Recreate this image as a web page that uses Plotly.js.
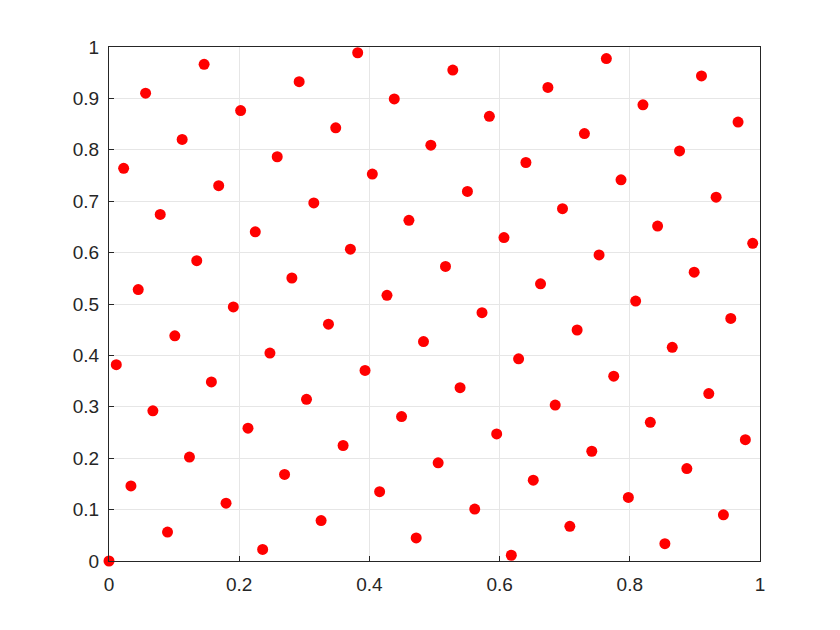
<!DOCTYPE html>
<html>
<head>
<meta charset="utf-8">
<script src="https://cdn.plot.ly/plotly-3.0.1.min.js"></script>
<style>
  html, body { margin: 0; padding: 0; background: #fff; }
  #plot { width: 840px; height: 630px; }
</style>
</head>
<body>
<div id="plot"></div>
<script>
// point coordinates
const xs = [
  0, 0.0112, 0.0225, 0.0337, 0.0449, 0.0562, 0.0674, 0.0787, 0.0899, 0.1011,
  0.1124, 0.1236, 0.1348, 0.1461, 0.1573, 0.1685, 0.1798, 0.1910, 0.2022, 0.2135,
  0.2247, 0.2360, 0.2472, 0.2584, 0.2697, 0.2809, 0.2921, 0.3034, 0.3146, 0.3258,
  0.3371, 0.3483, 0.3596, 0.3708, 0.3820, 0.3933, 0.4045, 0.4157, 0.4270, 0.4382,
  0.4494, 0.4607, 0.4719, 0.4831, 0.4944, 0.5056, 0.5169, 0.5281, 0.5393, 0.5506,
  0.5618, 0.5730, 0.5843, 0.5955, 0.6067, 0.6180, 0.6292, 0.6404, 0.6517, 0.6629,
  0.6742, 0.6854, 0.6966, 0.7079, 0.7191, 0.7303, 0.7416, 0.7528, 0.7640, 0.7753,
  0.7865, 0.7978, 0.8090, 0.8202, 0.8315, 0.8427, 0.8539, 0.8652, 0.8764, 0.8876,
  0.8989, 0.9101, 0.9213, 0.9326, 0.9438, 0.9551, 0.9663, 0.9775, 0.9888
];
const ys = [
  0, 0.3820, 0.7640, 0.1461, 0.5281, 0.9101, 0.2921, 0.6742, 0.0562, 0.4382,
  0.8202, 0.2022, 0.5843, 0.9663, 0.3483, 0.7303, 0.1124, 0.4944, 0.8764, 0.2584,
  0.6404, 0.0225, 0.4045, 0.7865, 0.1685, 0.5506, 0.9326, 0.3146, 0.6966, 0.0787,
  0.4607, 0.8427, 0.2247, 0.6067, 0.9888, 0.3708, 0.7528, 0.1348, 0.5169, 0.8989,
  0.2809, 0.6629, 0.0449, 0.4270, 0.8090, 0.1910, 0.5730, 0.9551, 0.3371, 0.7191,
  0.1011, 0.4831, 0.8652, 0.2472, 0.6292, 0.0112, 0.3933, 0.7753, 0.1573, 0.5393,
  0.9213, 0.3034, 0.6854, 0.0674, 0.4494, 0.8315, 0.2135, 0.5955, 0.9775, 0.3596,
  0.7416, 0.1236, 0.5056, 0.8876, 0.2697, 0.6517, 0.0337, 0.4157, 0.7978, 0.1798,
  0.5618, 0.9438, 0.3258, 0.7079, 0.0899, 0.4719, 0.8539, 0.2360, 0.6180
];
const xTicks = [0, 0.2, 0.4, 0.6, 0.8, 1];
const xTickText = ['0', '0.2', '0.4', '0.6', '0.8', '1'];
const yTicks = [0, 0.1, 0.2, 0.3, 0.4, 0.5, 0.6, 0.7, 0.8, 0.9, 1];
const yTickText = ['0', '0.1', '0.2', '0.3', '0.4', '0.5', '0.6', '0.7', '0.8', '0.9', '1'];

const axisStyle = {
  range: [0, 1],
  showgrid: true,
  gridcolor: '#e6e6e6',
  gridwidth: 1,
  zeroline: false,
  showline: true,
  linecolor: '#262626',
  linewidth: 1,
  mirror: true,
  ticks: 'inside',
  ticklen: 5,
  tickcolor: '#262626',
  tickfont: { family: 'Liberation Sans, Arial, sans-serif', size: 19, color: '#262626' },
  fixedrange: true
};

Plotly.newPlot('plot', [{
  x: xs, y: ys,
  type: 'scatter', mode: 'markers',
  cliponaxis: false,
  marker: { color: '#ff0000', size: 11, line: { width: 0 } },
  hoverinfo: 'none'
}], {
  width: 840, height: 630,
  margin: { l: 109, r: 80, t: 47, b: 69 },
  showlegend: false,
  xaxis: Object.assign({}, axisStyle, { tickvals: xTicks, ticktext: xTickText, ticklabelstandoff: 6 }),
  yaxis: Object.assign({}, axisStyle, { tickvals: yTicks, ticktext: yTickText, ticklabelstandoff: 5 }),
  plot_bgcolor: 'white', paper_bgcolor: 'white'
}, { displayModeBar: false, staticPlot: true });
</script>
</body>
</html>
